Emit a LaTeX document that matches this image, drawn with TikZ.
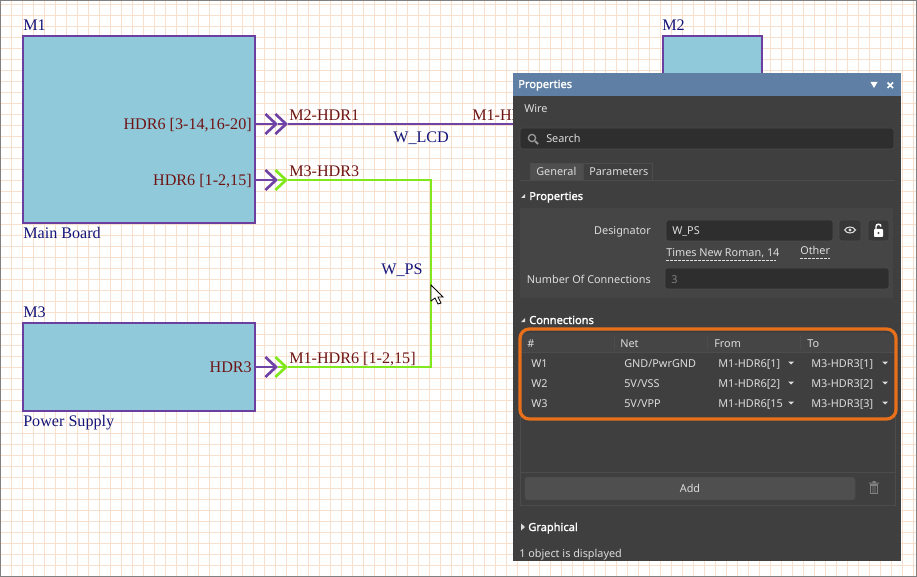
\documentclass[tikz,border=0pt]{standalone}
\usepackage{fontspec}
\setmainfont{Liberation Serif}
\newfontfamily\uifont{Noto Sans}
\newfontfamily\uibfont{Noto Sans}[FakeBold=1.6]
\usetikzlibrary{arrows.meta}
\definecolor{gridcol}{HTML}{F9E0CC}
\definecolor{modblue}{HTML}{90CADA}
\definecolor{modedge}{HTML}{6A3FA0}
\definecolor{wirepurple}{HTML}{6F42A6}
\definecolor{wiregreen}{HTML}{80E81C}
\definecolor{netred}{HTML}{6E1414}
\definecolor{desblue}{HTML}{14147A}
\definecolor{panelbg}{HTML}{3F3F3F}
\definecolor{panelhead}{HTML}{5F80A4}
\definecolor{panelin}{HTML}{454545}
\definecolor{panelbtn}{HTML}{4F4F4F}
\definecolor{fieldbg}{HTML}{2E2E2E}
\definecolor{uitext}{HTML}{DCDCDC}
\definecolor{hiorange}{HTML}{E8701A}
\tikzset{
  modbox/.style={draw=modedge,fill=modblue,line width=2pt,anchor=north west,inner sep=0pt,outer sep=0pt},
  chev/.style={-{Straight Barb[length=8pt,width=15pt]}},
  portline/.style={draw=wirepurple,line width=2pt},
  greenline/.style={draw=wiregreen,line width=2pt},
  deslabel/.style={text=desblue,font=\fontsize{12.1}{14}\selectfont,inner sep=0pt,anchor=west,text height=8pt,text depth=0pt},
  netlabel/.style={text=netred,font=\fontsize{12.1}{14}\selectfont,inner sep=0pt,text height=8pt,text depth=0pt},
  ui/.style={text=uitext,font=\uifont\fontsize{8.15}{10}\selectfont,inner sep=0pt,anchor=west,text height=6pt,text depth=0pt},
  uibold/.style={text=white,font=\uibfont\fontsize{8.3}{10}\selectfont,inner sep=0pt,anchor=west,text height=6pt,text depth=0pt},
  uifield/.style={fill=fieldbg,draw=black!70,line width=.4pt,rounded corners=2pt},
  uibtn/.style={fill=panelin!80!black,draw=black!70,line width=.4pt,rounded corners=2pt},
  uitri/.style={fill=uitext,draw=none}
}
\begin{document}
\begin{tikzpicture}[x=0.75pt,y=-0.75pt]
  \useasboundingbox (0,0) rectangle (917,577);
  \fill[white] (0,0) rectangle (917,577);

  % Draw the sheet grid
  \foreach \x in {0,...,83}
    \draw[gridcol,line width=.8pt] ({0.3+11*\x},0) -- ({0.3+11*\x},577);
  \foreach \y in {0,...,52}
    \draw[gridcol,line width=.8pt] (0,{4.3+11*\y}) -- (917,{4.3+11*\y});
  \draw[gray,line width=1.2pt] (0,0) rectangle (917,577);

  % Draw the modules
  \node (m1) [modbox,minimum width=174pt,minimum height=140.2pt] at (23,36) {};
  \node (m2) [modbox,minimum width=74.25pt,minimum height=60pt] at (663,36) {};
  \node (m3) [modbox,minimum width=174pt,minimum height=66pt] at (23,323) {};
  \node (m1name) [deslabel] at (23,25) {M1};
  \node (m2name) [deslabel] at (662,25) {M2};
  \node (m3name) [deslabel] at (23,312) {M3};
  \node (m1desc) [deslabel] at (23,233) {Main Board};
  \node (m3desc) [deslabel] at (23,421) {Power Supply};

  % Ports and wire corners
  \coordinate (lcdport) at (278,124);
  \coordinate (lcdwire) at (288,124);
  \coordinate (lcdend) at (520,124);
  \coordinate (psport) at (278,180);
  \coordinate (pswire) at (288,180);
  \coordinate (pscorner) at (431,180);
  \coordinate (psturn) at (431,367);
  \coordinate (hdrport) at (278,367);
  \coordinate (hdrwire) at (288,367);

  % Draw the wires
  \draw[greenline] (pswire) -- (pscorner) -- (psturn) -- (hdrwire);
  \draw[greenline,chev] (psport) -- (pswire);
  \draw[greenline,chev] (hdrport) -- (hdrwire);
  \draw[portline] (lcdwire) -- (lcdend);
  \draw[portline,chev] (lcdport) -- (lcdwire);
  \draw[portline,chev] (m1.east |- lcdport) -- (lcdport);
  \draw[portline,chev] (m1.east |- psport) -- (psport);
  \draw[portline,chev] (m3.east |- hdrport) -- (hdrport);

  % Label the ports and wires
  \node (lcdpin) [netlabel,anchor=east] at (252,124) {HDR6 [3-14,16-20]};
  \node (pspin) [netlabel,anchor=east] at (252,180) {HDR6 [1-2,15]};
  \node (hdrpin) [netlabel,anchor=east] at (252,367) {HDR3};
  \node (lcdnet) [netlabel,anchor=west] at (289,115) {M2-HDR1};
  \node (lcdnetb) [netlabel,anchor=west] at (472,115) {M1-HD};
  \node (psnet) [netlabel,anchor=west] at (289,171) {M3-HDR3};
  \node (hdrnet) [netlabel,anchor=west] at (289,358) {M1-HDR6 [1-2,15]};
  \node (lcdname) [deslabel] at (393,137) {W\_LCD};
  \node (psname) [deslabel] at (381,269) {W\_PS};

  % Draw the mouse pointer
  \draw[fill=white,line width=.6pt] (431,285) -- (431,301) -- (435,298) -- (438,304)
    -- (441,303) -- (438,297) -- (443,297) -- cycle;

  % Draw the properties panel
  \fill[panelbg] (513,73) rectangle (901,561);
  \fill[panelhead] (513,73) rectangle (901,96);
  \node (title) [uibold] at (518,84) {Properties};
  \fill[white] (870.5,82) -- (877.5,82) -- (874,88) -- cycle;
  \draw[white,line width=1.2pt] (887.5,82.5) -- (893,88) (893,82.5) -- (887.5,88);
  \node (wirelbl) [ui] at (524,109) {Wire};

  % Search box
  \draw[uifield] (520,128) rectangle (894,149);
  \draw[gray!80,line width=1pt] (532,138) circle (3.6);
  \draw[gray!80,line width=1.4pt] (535,141) -- (538,144);
  \node (search) [ui] at (546,138.5) {Search};

  % Tabs
  \draw[draw=black!70,fill=panelbtn,line width=.4pt] (530,180) -- (530,163) -- (582,163) -- (582,180);
  \draw[draw=black!70,line width=.4pt] (583,180) -- (583,163) -- (652,163) -- (652,180);
  \draw[black!70,line width=.6pt] (520,180) -- (895,180);
  \node (tabgen) [ui] at (536,172) {General};
  \node (tabpar) [ui] at (589,172) {Parameters};

  % Properties section
  \fill[uitri] (521,198) -- (525,194) -- (525,198) -- cycle;
  \node (sechead) [uibold] at (529,196) {Properties};
  \fill[panelin] (520,208) rectangle (893,298);
  \node (deslbl) [ui,anchor=east] at (651,231) {Designator};
  \draw[uifield] (666,220) rectangle (833,241);
  \node (desval) [ui] at (672,231) {W\_PS};
  \draw[uibtn] (839,220) rectangle (861,241);
  \draw[uibtn] (868,220) rectangle (889,241);
  \draw[uitext,line width=.8pt] (844.5,230) .. controls (847,226) and (853,226) .. (855.5,230)
    .. controls (853,234) and (847,234) .. (844.5,230);
  \fill[uitext] (850,230) circle (1.6);
  \fill[white,rounded corners=.7pt] (874,229) rectangle (883,237);
  \draw[white,line width=1.1pt] (876,229) -- (876,226.5) .. controls (876,223.5) and (881,223.5) .. (881,226.5);
  \fill[panelin] (878.5,233) circle (1.2);
  \node (fontlbl) [ui] at (666,253) {Times New Roman, 14};
  \draw[uitext,dash pattern=on 2pt off 1pt,line width=.5pt] (666,260) -- (776,260);
  \node (otherlbl) [ui] at (800,251) {Other};
  \draw[uitext,dash pattern=on 2pt off 1pt,line width=.5pt] (800,258) -- (830,258);
  \node (numlbl) [ui,anchor=east] at (651,279) {Number Of Connections};
  \draw[uifield] (665,268) rectangle (889,289);
  \node (numval) [ui,text=gray] at (671,279) {3};

  % Connections section
  \fill[uitri] (521,322) -- (525,318) -- (525,322) -- cycle;
  \node (connhead) [uibold] at (529,320) {Connections};
  \draw[black!70,line width=.6pt] (520,352) rectangle (895,505);
  \draw[black!70,line width=.6pt] (520,472) -- (895,472);
  \fill[panelin] (521,333) rectangle (894,352);
  \foreach \x in {614,707,800}
    \draw[black!70,line width=.6pt] (\x,336) -- (\x,350);
  \node (colnum) [ui] at (527,343) {\#};
  \node (colnet) [ui] at (620,343) {Net};
  \node (colfrom) [ui] at (714,343) {From};
  \node (colto) [ui] at (807,343) {To};

  % Table rows
  \foreach \y/\wname/\netname/\fromname/\toname in {363/W1/GND\slash PwrGND/M1-HDR6[1]/M3-HDR3[1],
      383/W2/5V\slash VSS/M1-HDR6[2]/M3-HDR3[2],403/W3/5V\slash VPP/M1-HDR6[15/M3-HDR3[3]} {
    \node (row\wname) [ui] at (531,\y) {\wname};
    \node (net\wname) [ui] at (624,\y) {\netname};
    \node (from\wname) [ui] at (718,\y) {\fromname};
    \node (to\wname) [ui] at (811,\y) {\toname};
    \fill[uitri] (788,\y-1.5) -- (794,\y-1.5) -- (791,\y+1.5) -- cycle;
    \fill[uitri] (882,\y-1.5) -- (888,\y-1.5) -- (885,\y+1.5) -- cycle;
  }
  \draw[hiorange,line width=2.4pt,rounded corners=7pt] (520,329) rectangle (896,419);

  % Add button and bin
  \node (addbtn) [uibtn,fill=panelbtn,minimum width=247.5pt,minimum height=17.2pt,inner sep=0pt,text=uitext,
    font=\uifont\fontsize{8.15}{10}\selectfont] at (690,488.5) {Add};
  \fill[gray] (870,484) rectangle (878,494);
  \fill[panelbg] (871.2,486) rectangle (872.6,492.8) (873.3,486) rectangle (874.7,492.8) (875.4,486) rectangle (876.8,492.8);
  \fill[gray] (869,482.5) rectangle (879,483.6) (872.5,481) rectangle (875.5,482.5);

  % Bottom of the panel
  \fill[uitri] (521,523.5) -- (525,527) -- (521,530.5) -- cycle;
  \node (grafhead) [uibold] at (528,527) {Graphical};
  \node (status) [ui] at (519,553) {1 object is displayed};
\end{tikzpicture}
\end{document}
